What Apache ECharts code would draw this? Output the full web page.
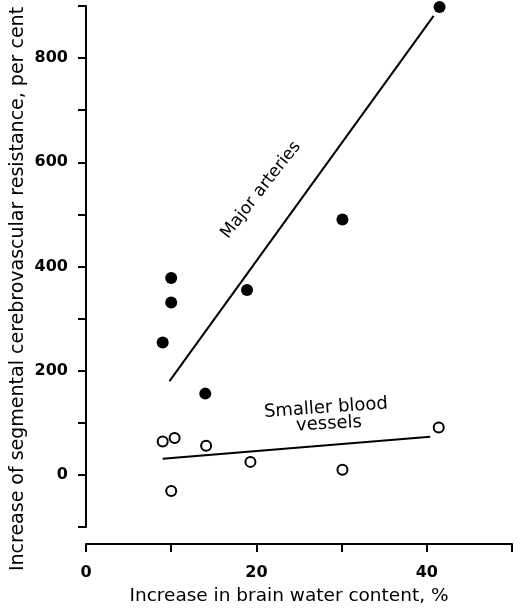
<!DOCTYPE html>
<html>
<head>
<meta charset="utf-8">
<style>
  html, body { margin: 0; padding: 0; background: #fff; }
  #chart { width: 522px; height: 608px; }
</style>
<script src="https://cdn.jsdelivr.net/npm/echarts@6/dist/echarts.min.js"></script>
</head>
<body>
<div id="chart"></div>
<script>
// Major arteries (filled circles)
const majorX = [41.5, 30.1, 18.9, 10.0, 10.0, 9.0, 14.0];
const majorY = [898, 490, 355, 378, 331, 254, 156];
// Smaller blood vessels (open circles)
const smallX = [9.0, 10.4, 10.0, 14.1, 19.3, 30.1, 41.4];
const smallY = [64, 71, -31, 56, 25, 10, 91];
// hand-drawn fit lines, end points
const majorFitX = [9.8, 40.8];
const majorFitY = [180, 881];
const smallFitX = [9.0, 40.4];
const smallFitY = [31, 73];

const xTicks = [0, 20, 40];
const yTicks = [0, 200, 400, 600, 800];

const font = "DejaVu Sans";
const chart = echarts.init(document.getElementById("chart"));

const pairs = (xs, ys) => xs.map((x, i) => [x, ys[i]]);

chart.setOption({
  animation: false,
  grid: { left: 86, right: 10, top: 6, bottom: 81 },
  xAxis: {
    type: "value",
    min: 0,
    max: 50,
    interval: 10,
    offset: 17,
    splitLine: { show: false },
    axisLine: { onZero: false, lineStyle: { color: "#000", width: 2 } },
    axisTick: { length: 8, lineStyle: { color: "#000", width: 2 } },
    axisLabel: {
      margin: 21,
      color: "#000",
      fontFamily: font,
      fontSize: 16,
      fontWeight: "bold",
      formatter: (v) => (xTicks.includes(v) ? String(v) : ""),
    },
  },
  yAxis: {
    type: "value",
    min: -100,
    max: 900,
    interval: 100,
    splitLine: { show: false },
    axisLine: { onZero: false, lineStyle: { color: "#000", width: 2 } },
    axisTick: { length: 8, lineStyle: { color: "#000", width: 2 } },
    axisLabel: {
      margin: 18,
      color: "#000",
      fontFamily: font,
      fontSize: 16,
      fontWeight: "bold",
      formatter: (v) => (yTicks.includes(v) ? String(v) : ""),
    },
  },
  graphic: [
    {
      type: "text",
      x: 18,
      y: 289,
      rotation: Math.PI / 2,
      style: {
        text: "Increase of segmental cerebrovascular resistance, per cent",
        font: "19px " + font,
        fill: "#000",
        align: "center",
        verticalAlign: "middle",
      },
    },
    {
      type: "text",
      x: 289,
      y: 596,
      style: {
        text: "Increase in brain water content, %",
        font: "18.5px " + font,
        fill: "#000",
        align: "center",
        verticalAlign: "middle",
      },
    },
    {
      type: "text",
      x: 261,
      y: 190,
      rotation: (52 * Math.PI) / 180,
      style: {
        text: "Major arteries",
        font: "17px " + font,
        fill: "#000",
        align: "center",
        verticalAlign: "middle",
      },
    },
    {
      type: "text",
      x: 326,
      y: 408,
      rotation: (4 * Math.PI) / 180,
      style: {
        text: "Smaller blood",
        font: "18px " + font,
        fill: "#000",
        align: "center",
        verticalAlign: "middle",
      },
    },
    {
      type: "text",
      x: 329,
      y: 424,
      rotation: (3 * Math.PI) / 180,
      style: {
        text: "vessels",
        font: "18px " + font,
        fill: "#000",
        align: "center",
        verticalAlign: "middle",
      },
    },
  ],
  series: [
    {
      type: "line",
      data: pairs(majorFitX, majorFitY),
      symbol: "none",
      lineStyle: { color: "#000", width: 2 },
    },
    {
      type: "line",
      data: pairs(smallFitX, smallFitY),
      symbol: "none",
      lineStyle: { color: "#000", width: 2 },
    },
    {
      type: "scatter",
      data: pairs(majorX, majorY),
      symbol: "circle",
      symbolSize: 12,
      itemStyle: { color: "#000", opacity: 1 },
    },
    {
      type: "scatter",
      data: pairs(smallX, smallY),
      symbol: "circle",
      symbolSize: 10,
      itemStyle: { color: "#fff", borderColor: "#000", borderWidth: 2, opacity: 1 },
    },
  ],
});
</script>
</body>
</html>
